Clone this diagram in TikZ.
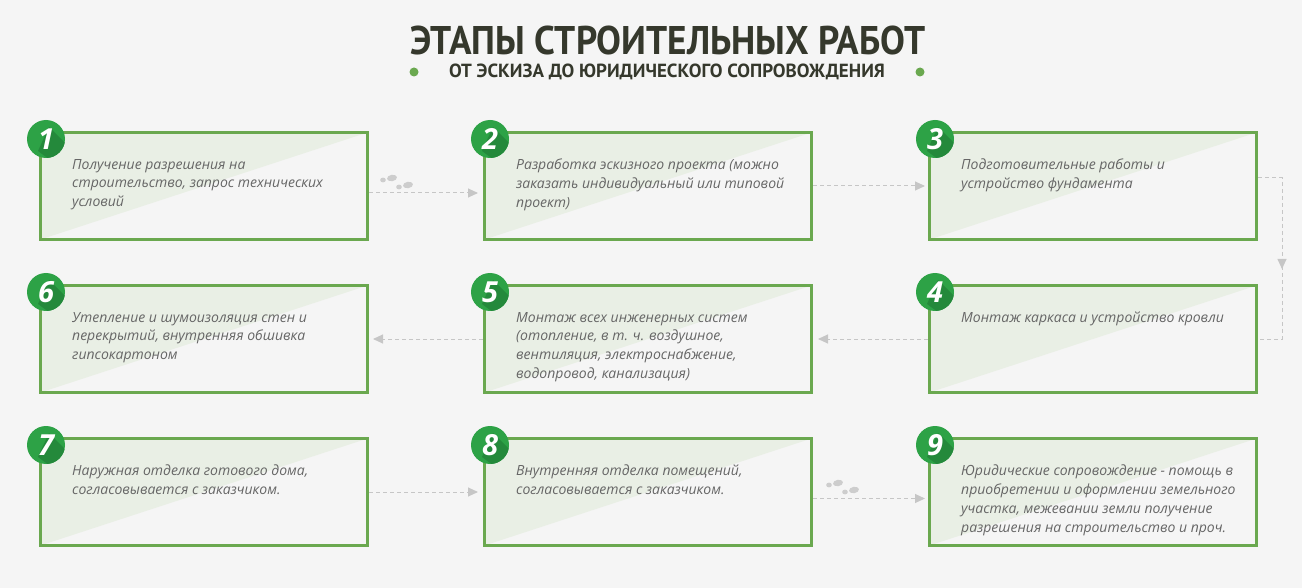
\documentclass[tikz,border=0pt]{standalone}
\usepackage{fontspec}
\usepackage{xcolor}
\usepackage{tikz}
\usetikzlibrary{arrows.meta,positioning,decorations.markings}

\setmainfont{Open Sans}
\newfontfamily\titlefont[FakeStretch=0.93]{PT Sans}
\newfontfamily\subtitlefont{PT Sans}

\definecolor{pagebg}{HTML}{F5F5F5}
\definecolor{boxgreen}{HTML}{6AA84F}
\definecolor{tintgreen}{HTML}{E9EFE5}
\definecolor{badgegreen}{HTML}{2DA246}
\definecolor{badgeshade}{HTML}{24893B}
\definecolor{bodygrey}{HTML}{666666}
\definecolor{titledark}{HTML}{35382C}
\definecolor{flowgrey}{HTML}{C6C6C6}
\definecolor{stepgrey}{HTML}{CDCDCD}

\tikzset{
  footstep/.pic={
    \fill[stepgrey] (0,0) ellipse [x radius=2.8pt, y radius=2.4pt];
    \fill[stepgrey, rotate around={10:(9,-2)}] (9,-2) ellipse [x radius=5pt, y radius=3.2pt];
    \fill[stepgrey] (16,7) ellipse [x radius=2.8pt, y radius=2.4pt];
    \fill[stepgrey, rotate around={10:(25,5)}] (25,5) ellipse [x radius=5pt, y radius=3.2pt];
  }
}

\begin{document}
\begin{tikzpicture}[
    x=1pt, y=-1pt,
    node distance=43pt and 114pt,
    stepbox/.style={rectangle, draw=boxgreen, line width=3pt, minimum width=327pt, minimum height=107pt,
      path picture={\fill[tintgreen] (path picture bounding box.north west) -- (path picture bounding box.north east) -- (path picture bounding box.south west) -- cycle;}},
    steptext/.style={anchor=north west, inner sep=0pt, align=left, text=bodygrey,
      font=\itshape\fontsize{14}{18.8}\selectfont},
    badge/.style={circle, fill=badgegreen, minimum size=38pt, inner sep=0pt, text=white,
      font=\bfseries\itshape\fontsize{29}{29}\selectfont,
      path picture={\fill[badgeshade] ([shift={(3,-12)}]path picture bounding box.center) -- ++(30,30) -- ++(-14,14) -- ([shift={(-8,12)}]path picture bounding box.center) -- cycle;}},
    flowline/.style={draw=flowgrey, line width=1pt, dash pattern=on 4pt off 3pt},
    flowarrow/.style={flowline, -{Triangle[length=10pt, width=9pt, fill=flowgrey]}},
    dot/.style={circle, fill=boxgreen, minimum size=9pt, inner sep=0pt},
  ]
  % page
  \fill[pagebg] (0,0) rectangle (1302,588);
  \useasboundingbox (0,0) rectangle (1302,588);

  % Heading
  \node[anchor=base, inner sep=0pt, text=titledark, font=\titlefont\bfseries\fontsize{40}{40}\selectfont] (title) at (668,55) {ЭТАПЫ СТРОИТЕЛЬНЫХ РАБОТ};
  \node[anchor=base, inner sep=0pt, text=titledark, font=\subtitlefont\bfseries\fontsize{19}{19}\selectfont] (subtitle) at (667,78) {ОТ ЭСКИЗА ДО ЮРИДИЧЕСКОГО СОПРОВОЖДЕНИЯ};
  \node[dot] (dotl) at (414,72) {};
  \node[dot] (dotr) at (920,72) {};

  % Row 1
  \node[stepbox] (b1) at (204,186) {};
  \node[stepbox, right=of b1] (b2) {};
  \node[stepbox, right=115pt of b2] (b3) {};

  % Row 2
  \node[stepbox, below=of b3] (b4) {};
  \node[stepbox, below=of b2] (b5) {};
  \node[stepbox, below=of b1] (b6) {};

  % Row 3
  \node[stepbox, below=of b6] (b7) {};
  \node[stepbox, below=of b5] (b8) {};
  \node[stepbox, below=of b4] (b9) {};

  % Texts
  \node[steptext] (t1) at ([shift={(33,28)}]b1.north west) {Получение разрешения на\\строительство, запрос технических\\условий};
  \node[steptext] (t2) at ([shift={(33,28)}]b2.north west) {Разработка эскизного проекта (можно\\заказать индивидуальный или типовой\\проект)};
  \node[steptext] (t3) at ([shift={(33,28)}]b3.north west) {Подготовительные работы и\\устройство фундамента};
  \node[steptext] (t4) at ([shift={(33,28)}]b4.north west) {Монтаж каркаса и устройство кровли};
  \node[steptext] (t5) at ([shift={(33,28)}]b5.north west) {Монтаж всех инженерных систем\\(отопление, в т. ч. воздушное,\\вентиляция, электроснабжение,\\водопровод, канализация)};
  \node[steptext] (t6) at ([shift={(33,28)}]b6.north west) {Утепление и шумоизоляция стен и\\перекрытий, внутренняя обшивка\\гипсокартоном};
  \node[steptext] (t7) at ([shift={(33,28)}]b7.north west) {Наружная отделка готового дома,\\согласовывается с заказчиком.};
  \node[steptext] (t8) at ([shift={(33,28)}]b8.north west) {Внутренняя отделка помещений,\\согласовывается с заказчиком.};
  \node[steptext] (t9) at ([shift={(33,28)}]b9.north west) {Юридические сопровождение - помощь в\\приобретении и оформлении земельного\\участка, межевании земли получение\\разрешения на строительство и проч.};

  % Badges
  \foreach \i in {1,...,9}
    \node[badge] (n\i) at ([shift={(7,8)}]b\i.north west) {\i};

  % Arrows
  \draw[flowarrow, shorten >=5pt] ([yshift=-7pt]b1.east) -- ([yshift=-7pt]b2.west);
  \draw[flowarrow, shorten >=3pt] (b2.east) -- (b3.west);
  \draw[flowline, postaction={decorate}, decoration={markings, mark=at position 0.55 with {\arrow{Triangle[length=10pt, width=9pt, fill=flowgrey]}}}]
    ([yshift=8pt]b3.east) -- ++(24,0) |- (b4.east);
  \draw[flowarrow, shorten >=5pt] (b4.west) -- (b5.east);
  \draw[flowarrow, shorten >=4pt] (b5.west) -- (b6.east);
  \draw[flowarrow, shorten >=5pt] (b7.east) -- (b8.west);
  \draw[flowarrow, shorten >=3pt] ([yshift=-6.5pt]b8.east) -- ([yshift=-6.5pt]b9.west);

  % Footsteps
  \pic at ([shift={(14,-6)}]b1.east) {footstep};
  \pic at ([shift={(16,-7)}]b8.east) {footstep};
\end{tikzpicture}
\end{document}
